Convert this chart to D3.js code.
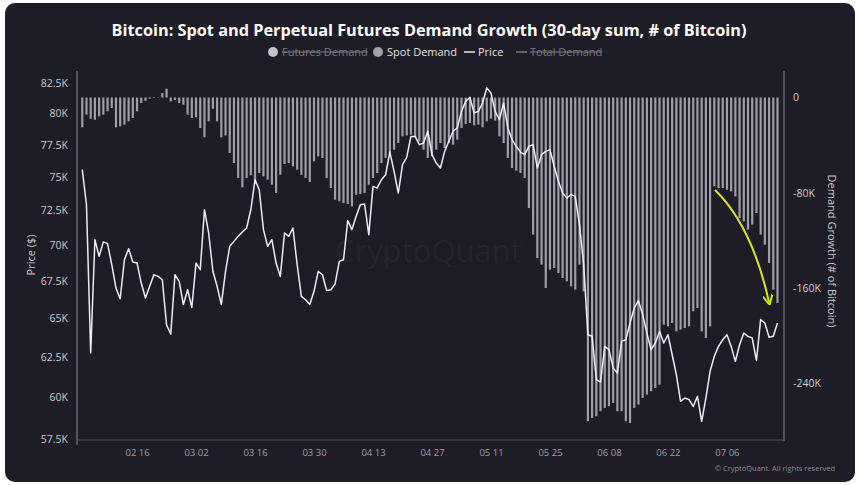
<!DOCTYPE html>
<html>
<head>
<meta charset="utf-8">
<script src="https://cdn.jsdelivr.net/npm/d3@7"></script>
<style>
  html, body { margin: 0; padding: 0; background: #ffffff; }
  svg { display: block; font-family: "Open Sans", "Noto Sans", sans-serif; }
</style>
</head>
<body>
<div id="chart"></div>
<script>
// daily series, first value is 3 Feb
const firstDay = Date.UTC(2026, 1, 3);

// BTC price, thousands of USD
const priceK = [
  75.56, 72.92, 62.74, 70.38, 69.20, 70.22, 70.10, 68.62, 67.01, 66.29,
  68.96, 69.74, 68.81, 68.73, 67.35, 66.34, 67.13, 67.92, 67.81, 67.58,
  64.56, 63.95, 67.92, 67.47, 65.90, 66.90, 65.71, 68.73, 68.27, 72.55,
  70.86, 68.16, 67.13, 65.90, 68.16, 69.91, 70.26, 70.62, 70.93, 71.22,
  72.55, 74.79, 74.04, 71.10, 69.91, 70.38, 68.73, 67.81, 70.86, 70.62,
  71.22, 68.62, 66.45, 66.22, 65.90, 66.79, 68.16, 67.92, 66.84, 66.90,
  67.29, 68.85, 68.96, 71.75, 71.10, 72.07, 72.92, 72.97, 70.74, 74.29,
  74.17, 74.79, 75.17, 76.92, 75.43, 73.79, 75.94, 76.51, 78.15, 78.15,
  77.50, 77.63, 78.56, 76.72, 76.07, 75.69, 76.97, 77.77, 78.56, 78.82,
  80.16, 80.98, 81.31, 80.03, 80.16, 80.84, 82.08, 81.67, 80.16, 79.49,
  80.84, 78.82, 77.89, 77.37, 76.92, 76.72, 77.37, 77.50, 75.69, 76.72,
  76.97, 77.10, 75.82, 74.67, 73.79, 73.42, 73.67, 73.54, 71.46, 68.62,
  63.91, 63.81, 61.07, 60.92, 63.16, 62.95, 61.79, 61.48, 63.49, 63.59,
  64.68, 65.67, 66.16, 65.23, 64.02, 62.95, 63.38, 64.13, 63.38, 63.91,
  62.63, 61.37, 59.74, 59.94, 59.84, 59.43, 60.04, 58.54, 59.94, 61.58,
  62.53, 63.16, 63.59, 63.91, 63.16, 62.21, 63.27, 64.02, 63.81, 63.70,
  62.26, 64.90, 64.68, 63.75, 63.81, 64.68
];

// spot demand growth, 30-day sum, thousands of BTC
const spotDemandK = [
  -25.0, -14.4, -17.8, -18.6, -15.8, -14.4, -11.6, -8.8, -25.0, -24.2,
  -22.8, -20.0, -17.2, -11.6, -4.6, -2.7, -1.0, -0.4, -0.2, 3.8,
  7.4, -3.2, -2.1, -4.6, -6.0, -14.4, -17.2, -16.6, -25.6, -33.4,
  -20.0, -9.4, -20.0, -33.4, -31.8, -46.6, -55.0, -67.6, -75.4, -67.6,
  -65.3, -72.6, -63.4, -66.2, -69.0, -73.2, -80.2, -64.8, -55.8, -55.0,
  -57.8, -60.6, -64.8, -67.6, -70.9, -53.6, -49.4, -50.8, -67.6, -76.0,
  -85.8, -87.2, -88.6, -89.4, -91.4, -81.6, -81.0, -80.2, -73.2, -67.6,
  -63.4, -55.0, -50.8, -46.6, -43.8, -38.2, -32.6, -31.8, -31.2, -33.4,
  -36.8, -43.8, -50.8, -49.4, -43.8, -38.2, -42.4, -38.2, -39.6, -35.4,
  -25.6, -22.2, -21.4, -23.4, -22.8, -25.0, -20.0, -17.8, -19.4, -32.6,
  -38.2, -50.8, -59.2, -61.4, -63.4, -67.6, -92.8, -115.1, -134.7, -140.3,
  -159.9, -144.5, -143.1, -147.3, -151.5, -154.3, -158.5, -161.3, -140.3, -162.7,
  -271.8, -269.0, -267.6, -263.4, -260.6, -259.2, -256.4, -263.4, -263.4, -271.8,
  -273.2, -260.6, -257.8, -252.2, -249.4, -246.6, -243.8, -241.1, -190.7, -192.1,
  -189.3, -196.3, -194.9, -193.5, -192.1, -179.5, -176.7, -196.3, -201.9, -192.1,
  -74.6, -76.0, -76.0, -77.4, -78.8, -83.0, -101.2, -104.0, -110.9, -106.7,
  -97.0, -115.1, -123.5, -138.9, -161.3, -172.5
];

const priceTicks = [57.5, 60, 62.5, 65, 67.5, 70, 72.5, 75, 77.5, 80, 82.5];
const demandTicks = [0, -80, -160, -240];
const dateTicks = ["2026-02-16", "2026-03-02", "2026-03-16", "2026-03-30", "2026-04-13",
                   "2026-04-27", "2026-05-11", "2026-05-25", "2026-06-08", "2026-06-22", "2026-07-06"];
const legendNames = ["Futures Demand", "Spot Demand", "Price", "Total Demand"];

const W = 860, H = 485;
const margin = {top: 83, right: 76, bottom: 46, left: 77};
const plotW = W - margin.left - margin.right,
      plotH = H - margin.top - margin.bottom;

const days = priceK.map((p, i) => new Date(firstDay + i * 864e5));
const rows = days.map((d, i) => ({date: d, price: priceK[i], spot: spotDemandK[i]}));

const svg = d3.select("#chart")
    .append("svg")
    .attr("width", W)
    .attr("height", H);

svg.append("rect")
    .attr("x", 5).attr("y", 3)
    .attr("width", W - 10).attr("height", H - 6)
    .attr("rx", 10)
    .attr("fill", "#1e1c26");

const g = svg.append("g")
    .attr("transform", `translate(${margin.left},${margin.top})`);

const xScale = d3.scaleUtc()
    .domain([d3.utcHour.offset(days[0], -30), d3.utcHour.offset(days[days.length - 1], 37)])
    .range([0, plotW]);
const yPrice = d3.scaleLog()
    .domain([57.5, 82.5])
    .range([plotH, 0]);
const yDemand = d3.scaleLinear()
    .domain([-286.7, 12.2])
    .range([plotH, 0]);

// watermark
g.append("text")
    .attr("x", plotW / 2 - 2)
    .attr("y", 179)
    .attr("text-anchor", "middle")
    .attr("font-size", 31)
    .attr("fill", "rgba(255,255,255,0.045)")
    .text("CryptoQuant");

// bars
const barW = 2.2;
g.selectAll(".bar")
    .data(rows)
    .enter()
    .append("rect")
    .attr("class", "bar")
    .attr("x", d => xScale(d.date) - barW / 2)
    .attr("y", d => Math.min(yDemand(d.spot), yDemand(0)))
    .attr("width", barW)
    .attr("height", d => Math.abs(yDemand(d.spot) - yDemand(0)))
    .attr("fill", "#9e9ea8");

// price line
const line = d3.line()
    .x(d => xScale(d.date))
    .y(d => yPrice(d.price));
g.append("path")
    .datum(rows)
    .attr("fill", "none")
    .attr("stroke", "#eeeef0")
    .attr("stroke-width", 1.5)
    .attr("stroke-linejoin", "round")
    .attr("d", line);

// axes
const axisColor = "#8c8c94";
const leftAxis = g.append("g")
    .call(d3.axisLeft(yPrice).tickValues(priceTicks).tickFormat(d => d + "K").tickSize(0).tickPadding(9));
const rightAxis = g.append("g")
    .attr("transform", `translate(${plotW},0)`)
    .call(d3.axisRight(yDemand).tickValues(demandTicks).tickFormat(d => d === 0 ? "0" : d + "K").tickSize(0).tickPadding(9));
const bottomAxis = g.append("g")
    .attr("transform", `translate(0,${plotH + 1})`)
    .call(d3.axisBottom(xScale).tickValues(dateTicks.map(s => new Date(s + "T00:00:00Z")))
        .tickFormat(d3.utcFormat("%m %d")).tickSize(0).tickPadding(9));

[leftAxis, rightAxis, bottomAxis].forEach(a => a.select(".domain").remove());
leftAxis.selectAll("text").attr("fill", "#c9c9cf").attr("font-size", 10.5).attr("font-family", "Open Sans");
rightAxis.selectAll("text").attr("fill", "#c9c9cf").attr("font-size", 10.5).attr("font-family", "Open Sans");
bottomAxis.selectAll("text").attr("fill", "#9d9da5").attr("font-size", 9.5).attr("font-family", "Open Sans");

g.append("line").attr("x1", 0).attr("x2", 0).attr("y1", -12).attr("y2", plotH + 6)
    .attr("stroke", axisColor).attr("stroke-width", 1);
g.append("line").attr("x1", plotW).attr("x2", plotW).attr("y1", -12).attr("y2", plotH + 2)
    .attr("stroke", axisColor).attr("stroke-width", 1);
g.append("line").attr("x1", 0).attr("x2", plotW).attr("y1", plotH + 1).attr("y2", plotH + 1)
    .attr("stroke", "#55555d").attr("stroke-width", 1);

// axis titles
svg.append("text")
    .attr("transform", `translate(35,255) rotate(-90)`)
    .attr("text-anchor", "middle")
    .attr("font-size", 11)
    .attr("fill", "#c9c9cf")
    .text("Price ($)");
svg.append("text")
    .attr("transform", `translate(828,251) rotate(90)`)
    .attr("text-anchor", "middle")
    .attr("font-size", 11)
    .attr("fill", "#c9c9cf")
    .text("Demand Growth (# of Bitcoin)");

// title
svg.append("text")
    .attr("x", 429)
    .attr("y", 36)
    .attr("text-anchor", "middle")
    .attr("font-size", 16.3)
    .attr("font-weight", 700)
    .attr("fill", "#ffffff")
    .text("Bitcoin: Spot and Perpetual Futures Demand Growth (30-day sum, # of Bitcoin)");

// legend
const legendX = [273, 378, 464, 516];
const legend = svg.append("g").attr("font-size", 11);
legendNames.forEach((name, i) => {
  const hidden = (i === 0 || i === 3);
  const x0 = legendX[i];
  if (i < 2) {
    legend.append("circle").attr("cx", x0).attr("cy", 52).attr("r", 5)
        .attr("fill", i === 0 ? "#c4c4ca" : "#a3a3ab");
  } else {
    legend.append("line").attr("x1", x0).attr("x2", x0 + 11).attr("y1", 52).attr("y2", 52)
        .attr("stroke", hidden ? "#77777e" : "#e6e6ea").attr("stroke-width", 1.5);
  }
  legend.append("text")
      .attr("x", i < 2 ? x0 + 9 : x0 + 14)
      .attr("y", 56)
      .attr("fill", hidden ? "#76767e" : "#e2e2e6")
      .attr("text-decoration", hidden ? "line-through" : null)
      .text(name);
});

// yellow annotation arrow
const arrowColor = "#d9e51a";
svg.append("defs").append("marker")
    .attr("id", "head")
    .attr("viewBox", "0 0 10 10")
    .attr("refX", 7).attr("refY", 5)
    .attr("markerWidth", 5).attr("markerHeight", 5)
    .attr("orient", "auto")
    .append("path")
    .attr("d", "M0,0 L10,5 L0,10")
    .attr("fill", "none")
    .attr("stroke", arrowColor)
    .attr("stroke-width", 2);
svg.append("path")
    .attr("d", "M715,190 Q752,226 769,302")
    .attr("fill", "none")
    .attr("stroke", arrowColor)
    .attr("stroke-width", 2)
    .attr("marker-end", "url(#head)");

// footer
svg.append("text")
    .attr("x", 835)
    .attr("y", 471)
    .attr("text-anchor", "end")
    .attr("font-size", 7.5)
    .attr("fill", "#8a8a92")
    .text("\u00a9 CryptoQuant. All rights reserved");
</script>
</body>
</html>
